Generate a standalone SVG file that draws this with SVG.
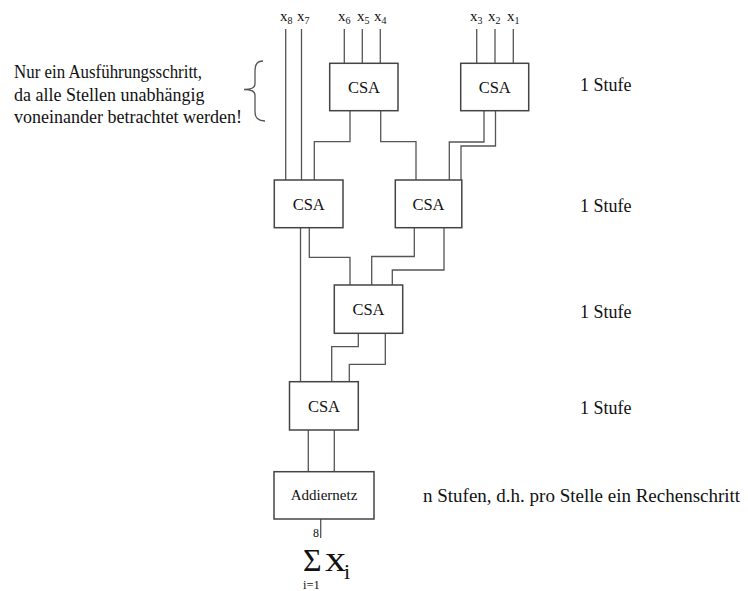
<svg xmlns="http://www.w3.org/2000/svg" width="748" height="591" viewBox="0 0 748 591">
<style>
.box{fill:#fff;stroke:#444;stroke-width:1.5}
.w{fill:none;stroke:#555;stroke-width:1.3}
.t{font-family:"Liberation Serif",serif;fill:#111}
.c{font-size:16.5px;text-anchor:middle}
.l{font-size:18px}
.x{font-size:15px}
.s{font-size:10px}
</style>
<rect width="748" height="591" fill="#fff"/>
<g id="connectors">
<path class="w" d="M285.7,29V180M301.5,29V180"/>
<path class="w" d="M344.3,29V63.3M362.3,29V63.3M380.3,29V63.3"/>
<path class="w" d="M476.7,29V63.3M495,29V63.3M513.3,29V63.3"/>
<path class="w" d="M350,110.7V141.7H314.3V180"/>
<path class="w" d="M380.7,110.7V141.7H416V180"/>
<path class="w" d="M484,110.7V142H449.3V180"/>
<path class="w" d="M495.5,110.7V146H461V180"/>
<path class="w" d="M300.5,227.7V381.7"/>
<path class="w" d="M309.3,227.7V257.3H350V285"/>
<path class="w" d="M414.3,227.7V256.5H371.7V285"/>
<path class="w" d="M444,227.7V270H392.3V285"/>
<path class="w" d="M358.3,333.3V346.7H331.7V381.7"/>
<path class="w" d="M385.3,333.3V364.3H349.3V381.7"/>
<path class="w" d="M308.3,430V471.7M334.3,430V471.7"/>
<path class="w" d="M320.7,519V538"/>
</g>
<g id="inputs">
<text class="t x" x="280" y="21">x<tspan class="s" dy="3">8</tspan></text>
<text class="t x" x="297" y="21">x<tspan class="s" dy="3">7</tspan></text>
<text class="t x" x="338" y="21">x<tspan class="s" dy="3">6</tspan></text>
<text class="t x" x="357" y="21">x<tspan class="s" dy="3">5</tspan></text>
<text class="t x" x="374" y="21">x<tspan class="s" dy="3">4</tspan></text>
<text class="t x" x="470" y="21">x<tspan class="s" dy="3">3</tspan></text>
<text class="t x" x="488" y="21">x<tspan class="s" dy="3">2</tspan></text>
<text class="t x" x="507" y="21">x<tspan class="s" dy="3">1</tspan></text>
</g>
<g id="csa1"><rect class="box" x="329.7" y="63.3" width="68.3" height="47.4"/><text class="t c" x="364" y="93">CSA</text></g>
<g id="csa2"><rect class="box" x="460.7" y="63.3" width="68" height="47.4"/><text class="t c" x="494.7" y="93">CSA</text></g>
<g id="csa3"><rect class="box" x="274.3" y="180" width="68.7" height="47.7"/><text class="t c" x="308.7" y="210">CSA</text></g>
<g id="csa4"><rect class="box" x="395.3" y="180" width="66.5" height="47.7"/><text class="t c" x="428.5" y="210">CSA</text></g>
<g id="csa5"><rect class="box" x="334.3" y="285" width="68.4" height="48.3"/><text class="t c" x="368.5" y="315">CSA</text></g>
<g id="csa6"><rect class="box" x="289.5" y="381.7" width="68.8" height="48.3"/><text class="t c" x="324" y="412">CSA</text></g>
<g id="addiernetz"><rect class="box" x="274" y="471.7" width="100" height="47.3"/><text class="t" x="324" y="500" font-size="15" text-anchor="middle">Addiernetz</text></g>
<g id="sum">
<text class="t" x="313" y="537" font-size="12">8</text>
<text class="t" x="303" y="571" font-size="32">Σ</text>
<text class="t" x="325" y="571" font-size="36" textLength="21" lengthAdjust="spacingAndGlyphs">x</text>
<text class="t" x="344" y="579" font-size="22">i</text>
<text class="t" x="303" y="589" font-size="12.5">i=1</text>
</g>
<g id="note">
<text class="t l" x="14" y="78" textLength="188" lengthAdjust="spacingAndGlyphs">Nur ein Ausführungsschritt,</text>
<text class="t l" x="14" y="101">da alle Stellen unabhängig</text>
<text class="t l" x="14" y="123">voneinander betrachtet werden!</text>
<path class="w" d="M263,61Q255,61 255,70V84Q255,89.5 244,89.5Q255,89.5 255,95V112Q255,121 265,121"/>
</g>
<g id="stages">
<text class="t l" x="580" y="91">1 Stufe</text>
<text class="t l" x="580" y="212">1 Stufe</text>
<text class="t l" x="580" y="318">1 Stufe</text>
<text class="t l" x="580" y="414">1 Stufe</text>
<text class="t" x="423" y="502" font-size="19">n Stufen, d.h. pro Stelle ein Rechenschritt</text>
</g>
</svg>
